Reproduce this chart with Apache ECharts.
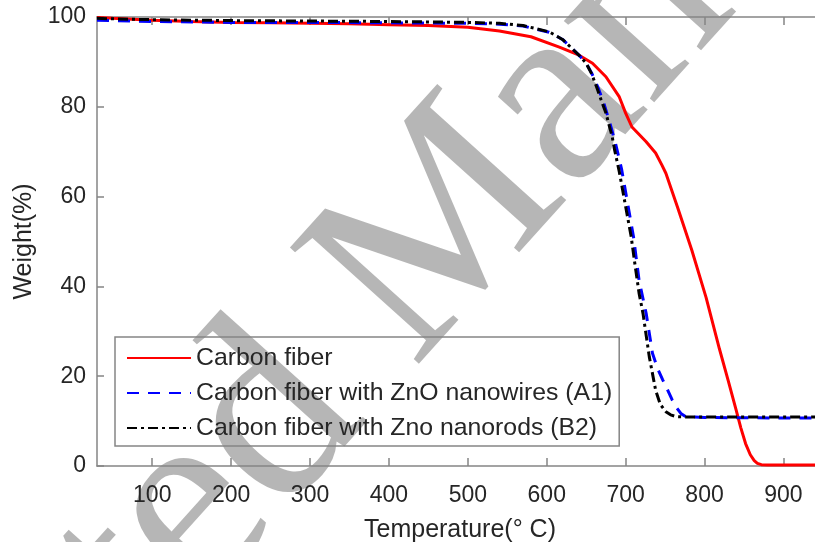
<!DOCTYPE html>
<html>
<head>
<meta charset="utf-8">
<script src="https://cdn.jsdelivr.net/npm/echarts@6/dist/echarts.min.js"></script>
<style>
html,body{margin:0;padding:0;background:#fff;}
#c{width:815px;height:542px;}
</style>
</head>
<body>
<div id="c"></div>
<script>
const xTicks = [100, 200, 300, 400, 500, 600, 700, 800, 900];
const yTicks = [0, 20, 40, 60, 80, 100];

const cfT = [30,50,100,150,200,250,300,350,400,450,500,540,580,616,641,658,675,692,700,708,726,738,746,751,766,784,802,819,830,840,846,852,858,863,867,872,880,900,940];
const cfV = [99.9,99.7,99.3,99.0,98.8,98.7,98.6,98.5,98.3,98.1,97.7,96.9,95.6,93.3,91.5,89.7,86.7,82.2,78.6,75.5,72.2,69.7,67.0,65.2,57.5,48,37.5,26,19,12.5,8.5,5,2.5,1.2,0.6,0.3,0.2,0.2,0.2];

const a1T = [30,50,100,200,300,400,500,540,570,603,620,632,642,650,657,665,672,679,687,695,703,710,717,726,734,741,747,753,759,765,770,776,800,900,940];
const a1V = [99.3,99.2,99.0,98.8,98.8,98.7,98.6,98.4,98.0,96.6,95,93,91.3,89.7,87.5,84.3,81,77,72,66,58,51,41.4,34,25.1,21.5,19.2,17,14.7,12.9,11.7,11,10.8,10.7,10.7];

const b2T = [30,50,100,200,300,400,450,500,540,570,603,620,632,642,650,657,663,669,675,683,686,692,700,707,711,717,722,730,738,744,751,757,764,775,800,900,940];
const b2V = [99.7,99.6,99.4,99.2,99.1,99.0,98.9,98.8,98.6,98.1,96.7,95,93,91.3,89.7,87.3,84.5,81.5,78.6,73.3,70.4,65.5,57.8,51.1,45.9,38.5,34,24.3,16.9,13.7,12.1,11.4,11,10.9,10.9,10.9,10.9];

const names = ['Carbon fiber', 'Carbon fiber with ZnO nanowires (A1)', 'Carbon fiber with Zno nanorods (B2)'];

function pairs(t, v) { return t.map((x, i) => [x, v[i]]); }

const axisGray = '#858585';
const txt = '#262626';
const font = 'Liberation Sans, Arial, sans-serif';
const wm = 'rgba(110,110,110,0.5)';

const chart = echarts.init(document.getElementById('c'));
chart.setOption({
  animation: false,
  backgroundColor: '#fff',
  grid: { left: 97, right: 0, top: 17, bottom: 76, containLabel: false, outerBoundsMode: 'none' },
  graphic: [{
    type: 'group',
    x: 420, y: 375,
    rotation: 48 * Math.PI / 180,
    z: 1,
    children: [
      { type: 'text', x: 0, y: -78, style: { text: 'Accepted ', align: 'right', verticalAlign: 'middle', fontSize: 265, fontFamily: 'Liberation Serif, serif', fill: wm } },
      { type: 'text', x: 0, y: -78, style: { text: 'Manuscript', align: 'left', verticalAlign: 'middle', fontSize: 265, fontFamily: 'Liberation Serif, serif', fill: wm } }
    ]
  }],
  legend: {
    orient: 'vertical',
    left: 115, top: 337,
    padding: [8, 7, 5, 11],
    itemWidth: 64, itemHeight: 14, itemGap: 9,
    borderColor: axisGray, borderWidth: 1.5,
    backgroundColor: 'transparent',
    itemStyle: { opacity: 0 },
    textStyle: { fontSize: 24.8, fontFamily: font, color: txt, lineHeight: 26 },
    data: names
  },
  xAxis: [{
    type: 'value', min: 30, max: 940, position: 'bottom',
    name: 'Temperature(\u00b0 C)', nameLocation: 'middle', nameGap: 52,
    nameTextStyle: { fontSize: 25, fontFamily: font, color: txt, padding: [0, 0, 0, 8] },
    axisLine: { lineStyle: { color: axisGray, width: 1.5 } },
    axisTick: { inside: true, length: 8, lineStyle: { color: axisGray, width: 1.5 }, customValues: xTicks },
    axisLabel: { fontSize: 23, fontFamily: font, color: txt, margin: 18, customValues: xTicks },
    splitLine: { show: false }
  }, {
    type: 'value', min: 30, max: 940, position: 'top',
    axisLine: { lineStyle: { color: axisGray, width: 1.5 } },
    axisTick: { inside: true, length: 8, lineStyle: { color: axisGray, width: 1.5 }, customValues: xTicks },
    axisLabel: { show: false },
    splitLine: { show: false }
  }],
  yAxis: [{
    type: 'value', min: 0, max: 100, interval: 20,
    name: 'Weight(%)', nameLocation: 'middle', nameGap: 55,
    nameTextStyle: { fontSize: 25, fontFamily: font, color: txt },
    axisLine: { show: true, lineStyle: { color: axisGray, width: 1.5 } },
    axisTick: { show: true, inside: true, length: 7, lineStyle: { color: axisGray, width: 1.5 } },
    axisLabel: { fontSize: 23, fontFamily: font, color: txt, margin: 11 },
    splitLine: { show: false }
  }],
  series: [{
    name: names[0], type: 'line', data: pairs(cfT, cfV),
    symbol: 'none', symbolSize: 0, showSymbol: false,
    lineStyle: { color: '#ff0000', width: 3 }, itemStyle: { color: '#ff0000' }, z: 3
  }, {
    name: names[1], type: 'line', data: pairs(a1T, a1V),
    symbol: 'none', symbolSize: 0, showSymbol: false,
    lineStyle: { color: '#0000ff', width: 3, type: [12, 9] }, itemStyle: { color: '#0000ff' }, z: 4
  }, {
    name: names[2], type: 'line', data: pairs(b2T, b2V),
    symbol: 'none', symbolSize: 0, showSymbol: false,
    lineStyle: { color: '#000000', width: 3, type: [10, 4, 3, 4] }, itemStyle: { color: '#000000' }, z: 5
  }]
});
</script>
</body>
</html>
